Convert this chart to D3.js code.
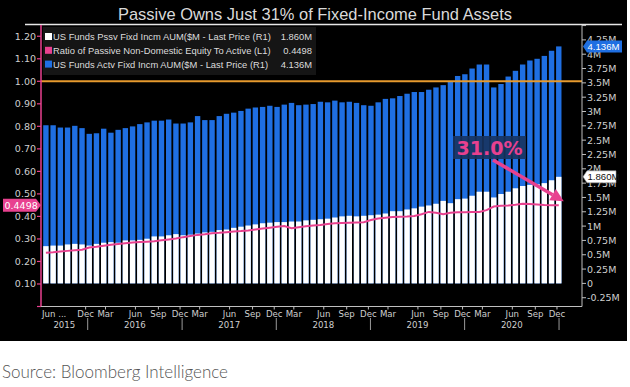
<!DOCTYPE html>
<html>
<head>
<meta charset="utf-8">
<script src="https://cdn.jsdelivr.net/npm/d3@7"></script>
<style>
  html, body { margin: 0; padding: 0; background: #fff; }
  svg { display: block; }
</style>
</head>
<body>
<div id="chart"></div>
<script>
// one bar every 4 weeks, first bar
const firstBar = new Date(2015, 6, 23)

// US Funds Actv Fixd Incm AUM, $M (millions) - R1
const activeAUM = [2.76, 2.76, 2.72, 2.72, 2.75, 2.71, 2.61, 2.62, 2.70, 2.63,
    2.68, 2.71, 2.74, 2.78, 2.81, 2.84, 2.84, 2.86, 2.79, 2.79,
    2.81, 2.92, 2.85, 2.85, 2.92, 2.96, 2.98, 3.01, 3.05, 3.07,
    3.08, 3.10, 3.08, 3.12, 3.15, 3.11, 3.12, 3.13, 3.17, 3.16,
    3.19, 3.16, 3.17, 3.15, 3.11, 3.10, 3.16, 3.22, 3.23, 3.27,
    3.31, 3.34, 3.34, 3.38, 3.42, 3.46, 3.53, 3.62, 3.65, 3.75,
    3.82, 3.82, 3.42, 3.48, 3.61, 3.71, 3.82, 3.89, 3.92, 3.97,
    4.06, 4.136]

// US Funds Pssv Fixd Incm AUM, $M (millions) - R1
const passiveAUM = [0.65, 0.66, 0.66, 0.68, 0.69, 0.68, 0.66, 0.69, 0.71, 0.72,
    0.71, 0.75, 0.75, 0.76, 0.78, 0.82, 0.82, 0.84, 0.86, 0.84,
    0.85, 0.87, 0.89, 0.90, 0.93, 0.94, 0.97, 0.99, 1.01, 1.03,
    1.05, 1.06, 1.07, 1.07, 1.08, 1.08, 1.10, 1.11, 1.12, 1.13,
    1.15, 1.17, 1.18, 1.17, 1.18, 1.19, 1.20, 1.22, 1.26, 1.26,
    1.29, 1.31, 1.34, 1.36, 1.39, 1.44, 1.40, 1.47, 1.48, 1.53,
    1.60, 1.60, 1.50, 1.56, 1.60, 1.66, 1.70, 1.72, 1.73, 1.75,
    1.80, 1.860]

// Ratio of Passive Non-Domestic Equity To Active - L1
const ratio = [0.239, 0.241, 0.244, 0.247, 0.250, 0.252, 0.262, 0.265, 0.270, 0.274,
    0.278, 0.281, 0.284, 0.286, 0.288, 0.290, 0.294, 0.298, 0.302, 0.308,
    0.313, 0.318, 0.321, 0.325, 0.327, 0.330, 0.333, 0.335, 0.338, 0.342,
    0.346, 0.350, 0.354, 0.357, 0.348, 0.352, 0.356, 0.360, 0.362, 0.366,
    0.370, 0.371, 0.372, 0.373, 0.374, 0.384, 0.391, 0.394, 0.397, 0.399,
    0.400, 0.402, 0.410, 0.420, 0.416, 0.410, 0.416, 0.418, 0.419, 0.420,
    0.420, 0.428, 0.444, 0.447, 0.449, 0.452, 0.456, 0.455, 0.453, 0.451,
    0.450, 0.4498]

const monthLabels = ["Dec",
    "Mar", "Jun", "Sep", "Dec", "Mar", "Jun", "Sep", "Dec",
    "Mar", "Jun", "Sep", "Dec", "Mar", "Jun", "Sep", "Dec",
    "Mar", "Jun", "Sep", "Dec"]
const monthTicks = ["2015-12-24",
    "2016-03-10", "2016-07-04", "2016-10-01", "2016-12-24",
    "2017-03-10", "2017-07-04", "2017-10-01", "2017-12-24",
    "2018-03-10", "2018-07-04", "2018-10-01", "2018-12-24",
    "2019-03-10", "2019-07-04", "2019-10-01", "2019-12-24",
    "2020-03-10", "2020-07-04", "2020-10-01", "2020-12-24"]
const years = [2015, 2016, 2017, 2018, 2019, 2020]

const leftTicks = [0.1, 0.2, 0.3, 0.4, 0.5, 0.6, 0.7, 0.8, 0.9, 1.0, 1.1, 1.2]
const rightTicks = [-0.25, 0, 0.25, 0.5, 0.75, 1, 1.25, 1.5, 1.75, 2, 2.25, 2.5,
    2.75, 3, 3.25, 3.5, 3.75, 4, 4.25]

const W = 630, H = 387
const BLUE = "#1f6fe2", PINK = "#e8418f", ORANGE = "#e69a2e", GREY = "#cfcfcf"
const axisFont = "'DejaVu Sans', Verdana, sans-serif"
const narrowFont = "'Liberation Sans', Arial, sans-serif"

const svg = d3.select("#chart").append("svg")
    .attr("width", W).attr("height", H)

// black bloomberg panel
svg.append("rect").attr("x", 0).attr("y", 0).attr("width", 627).attr("height", 341).attr("fill", "#000")

svg.append("text")
    .attr("x", 315).attr("y", 19.5)
    .attr("text-anchor", "middle")
    .attr("font-family", narrowFont)
    .attr("font-size", 17)
    .attr("fill", "#d9d9d9")
    .attr("textLength", 394).attr("lengthAdjust", "spacingAndGlyphs")
    .text("Passive Owns Just 31% of Fixed-Income Fund Assets")

svg.append("line").attr("x1", 25).attr("x2", 622).attr("y1", 24.5).attr("y2", 24.5)
    .attr("stroke", "#e6e6e6").attr("stroke-width", 1.5)

// scales
const plotL = 41, plotR = 582, plotT = 25, plotB = 306.5
const x = d3.scaleTime()
    .domain([new Date(2015, 6, 4), new Date(2021, 2, 31)])
    .range([plotL, plotR])
const yL = d3.scaleLinear().domain([0, 1.25]).range([plotB, plotT])
const yR = d3.scaleLinear().domain([0, 4.5]).range([283.4, 25.55])

const dates = activeAUM.map((d, i) => d3.timeDay.offset(firstBar, i * 28))
const bw = 5.4

// active behind, passive in front
svg.append("g").selectAll("rect")
    .data(activeAUM)
    .join("rect")
    .attr("x", (d, i) => x(dates[i]) - bw / 2)
    .attr("y", d => yR(d))
    .attr("width", bw)
    .attr("height", d => yR(0) - yR(d))
    .attr("fill", BLUE)

svg.append("g").selectAll("rect")
    .data(passiveAUM)
    .join("rect")
    .attr("x", (d, i) => x(dates[i]) - bw / 2)
    .attr("y", d => yR(d))
    .attr("width", bw)
    .attr("height", d => yR(0) - yR(d))
    .attr("fill", "#fff")

// 1.00 line
svg.append("line")
    .attr("x1", plotL).attr("x2", plotR)
    .attr("y1", yL(1)).attr("y2", yL(1))
    .attr("stroke", ORANGE).attr("stroke-width", 2)

const line = d3.line()
    .x((d, i) => x(dates[i]))
    .y(d => yL(d))
svg.append("path")
    .datum(ratio)
    .attr("d", line)
    .attr("fill", "none")
    .attr("stroke", PINK)
    .attr("stroke-width", 2)

// legend
const legend = svg.append("g")
legend.append("rect").attr("x", 43).attr("y", 27).attr("width", 273).attr("height", 48).attr("fill", "#151515")
const legendRows = [
    {c: "#fff", name: "US Funds Pssv Fixd Incm AUM($M - Last Price (R1)", val: "1.860M"},
    {c: PINK, name: "Ratio of Passive Non-Domestic Equity To Active (L1)", val: "0.4498"},
    {c: BLUE, name: "US Funds Actv Fixd Incm AUM($M - Last Price (R1)", val: "4.136M"}
]
legendRows.forEach((r, i) => {
    const yy = 36.5 + i * 13.8
    legend.append("rect").attr("x", 45).attr("y", yy - 3.5).attr("width", 7).attr("height", 7).attr("fill", r.c)
    legend.append("text").attr("x", 53).attr("y", yy + 3.6)
        .attr("font-family", narrowFont).attr("font-size", 9.4).attr("fill", "#dcdcdc")
        .text(r.name)
    legend.append("text").attr("x", 312).attr("y", yy + 3.6)
        .attr("text-anchor", "end")
        .attr("font-family", narrowFont).attr("font-size", 9.4).attr("fill", "#dcdcdc")
        .text(r.val)
})

// left axis (pink)
const gl = svg.append("g")
gl.append("line").attr("x1", plotL).attr("x2", plotL).attr("y1", plotT).attr("y2", plotB)
    .attr("stroke", PINK).attr("stroke-width", 1.5)
gl.selectAll(".lt").data(leftTicks.concat([0])).join("line")
    .attr("x1", plotL - 4).attr("x2", plotL)
    .attr("y1", d => yL(d)).attr("y2", d => yL(d))
    .attr("stroke", PINK).attr("stroke-width", 1.2)
gl.selectAll("text").data(leftTicks).join("text")
    .attr("x", plotL - 5).attr("y", d => yL(d) + 3.5)
    .attr("text-anchor", "end")
    .attr("font-family", axisFont).attr("font-size", 9.5).attr("fill", GREY)
    .text(d => d3.format(".2f")(d))

// right axis
const gr = svg.append("g")
gr.append("line").attr("x1", plotR).attr("x2", plotR).attr("y1", plotT).attr("y2", plotB)
    .attr("stroke", "#bfbfbf").attr("stroke-width", 1)
gr.selectAll("line.t").data(rightTicks.concat([4.5])).join("line")
    .attr("x1", plotR).attr("x2", plotR + 4)
    .attr("y1", d => yR(d)).attr("y2", d => yR(d))
    .attr("stroke", "#bfbfbf")
gr.selectAll("text").data(rightTicks).join("text")
    .attr("x", plotR + 5).attr("y", d => yR(d) + 3.5)
    .attr("font-family", axisFont).attr("font-size", 9.5).attr("fill", GREY)
    .text(d => d === 0 ? "0" : d + "M")

// bottom axis
const gb = svg.append("g")
gb.append("line").attr("x1", plotL).attr("x2", plotR).attr("y1", plotB).attr("y2", plotB)
    .attr("stroke", "#bfbfbf")
const parse = d3.timeParse("%Y-%m-%d")
const tickDates = monthTicks.map(parse)
gb.selectAll("line.t").data(tickDates).join("line")
    .attr("x1", d => x(d)).attr("x2", d => x(d))
    .attr("y1", plotB).attr("y2", plotB + 3)
    .attr("stroke", "#bfbfbf")
gb.append("text").attr("x", plotL + 1).attr("y", 317)
    .attr("font-family", axisFont).attr("font-size", 8.6).attr("fill", GREY)
    .text("Jun ...")
gb.selectAll("text.m").data(tickDates).join("text")
    .attr("x", d => x(d)).attr("y", 317)
    .attr("text-anchor", "middle")
    .attr("font-family", axisFont).attr("font-size", 8.6).attr("fill", GREY)
    .text((d, i) => monthLabels[i])
// year separators and labels
const yearStarts = years.map(y => new Date(y + 1, 0, 1))
gb.selectAll("line.sep").data(yearStarts).join("line")
    .attr("x1", d => x(d)).attr("x2", d => x(d))
    .attr("y1", 318).attr("y2", 330)
    .attr("stroke", "#9a9a9a")
gb.selectAll("text.y").data(years).join("text")
    .attr("x", y => {
        const a = Math.max(x(new Date(y, 0, 1)), plotL)
        return (a + x(new Date(y + 1, 0, 1))) / 2
    })
    .attr("y", 328)
    .attr("text-anchor", "middle")
    .attr("font-family", axisFont).attr("font-size", 8.6).attr("fill", GREY)
    .text(d => d)

// last value tags
function rightTag(v, w, fill, color, label) {
    const yc = yR(v), h = 12, x0 = plotR + 1
    svg.append("path")
        .attr("d", `M${x0},${yc} L${x0 + 4},${yc - h / 2} L${x0 + w},${yc - h / 2} L${x0 + w},${yc + h / 2} L${x0 + 4},${yc + h / 2} Z`)
        .attr("fill", fill).attr("stroke", fill === "#fff" ? "#999" : "none").attr("stroke-width", 0.6)
    svg.append("text").attr("x", x0 + 4.5).attr("y", yc + 3.5)
        .attr("font-family", narrowFont).attr("font-size", 9.6).attr("fill", color)
        .text(label)
}
rightTag(passiveAUM[passiveAUM.length - 1], 33, "#fff", "#111", "1.860M")
rightTag(activeAUM[activeAUM.length - 1], 39, BLUE, "#fff", "4.136M")

{
    const yc = yL(ratio[ratio.length - 1]), h = 13
    svg.append("path")
        .attr("d", `M${plotL},${yc} L${plotL - 5},${yc - h / 2} L3,${yc - h / 2} L3,${yc + h / 2} L${plotL - 5},${yc + h / 2} Z`)
        .attr("fill", PINK)
    svg.append("text").attr("x", 4.5).attr("y", yc + 3.6)
        .attr("font-family", axisFont).attr("font-size", 9.5).attr("fill", "#fff")
        .text("0.4498")
}

// 31.0% callout
const share = passiveAUM[passiveAUM.length - 1] / (passiveAUM[passiveAUM.length - 1] + activeAUM[activeAUM.length - 1])
const callout = svg.append("g")
callout.append("rect").attr("x", 453).attr("y", 136).attr("width", 73).attr("height", 23)
    .attr("fill", "#17335f").attr("opacity", 0.9)
callout.append("text").attr("x", 489.5).attr("y", 155)
    .attr("text-anchor", "middle")
    .attr("font-family", axisFont).attr("font-size", 19).attr("font-weight", "bold")
    .attr("fill", PINK)
    .text(d3.format(".1%")(share))
const tip = [x(dates[dates.length - 1]) + 5, yL(ratio[ratio.length - 1]) - 4]
const from = [493, 160]
const dx = tip[0] - from[0], dy = tip[1] - from[1], len = Math.hypot(dx, dy)
const ux = dx / len, uy = dy / len
const base = [tip[0] - 13 * ux, tip[1] - 13 * uy]
callout.append("line").attr("x1", from[0]).attr("y1", from[1]).attr("x2", base[0]).attr("y2", base[1])
    .attr("stroke", PINK).attr("stroke-width", 3.5)
callout.append("path")
    .attr("d", `M${tip[0]},${tip[1]} L${base[0] - 6.5 * uy},${base[1] + 6.5 * ux} L${base[0] + 6.5 * uy},${base[1] - 6.5 * ux} Z`)
    .attr("fill", PINK)

// source line under the panel
svg.append("text").attr("x", 2).attr("y", 378)
    .attr("font-family", "Lato, 'Open Sans', sans-serif").attr("font-size", 17).attr("font-weight", 300)
    .attr("fill", "#555")
    .text("Source: Bloomberg Intelligence")
</script>
</body>
</html>
